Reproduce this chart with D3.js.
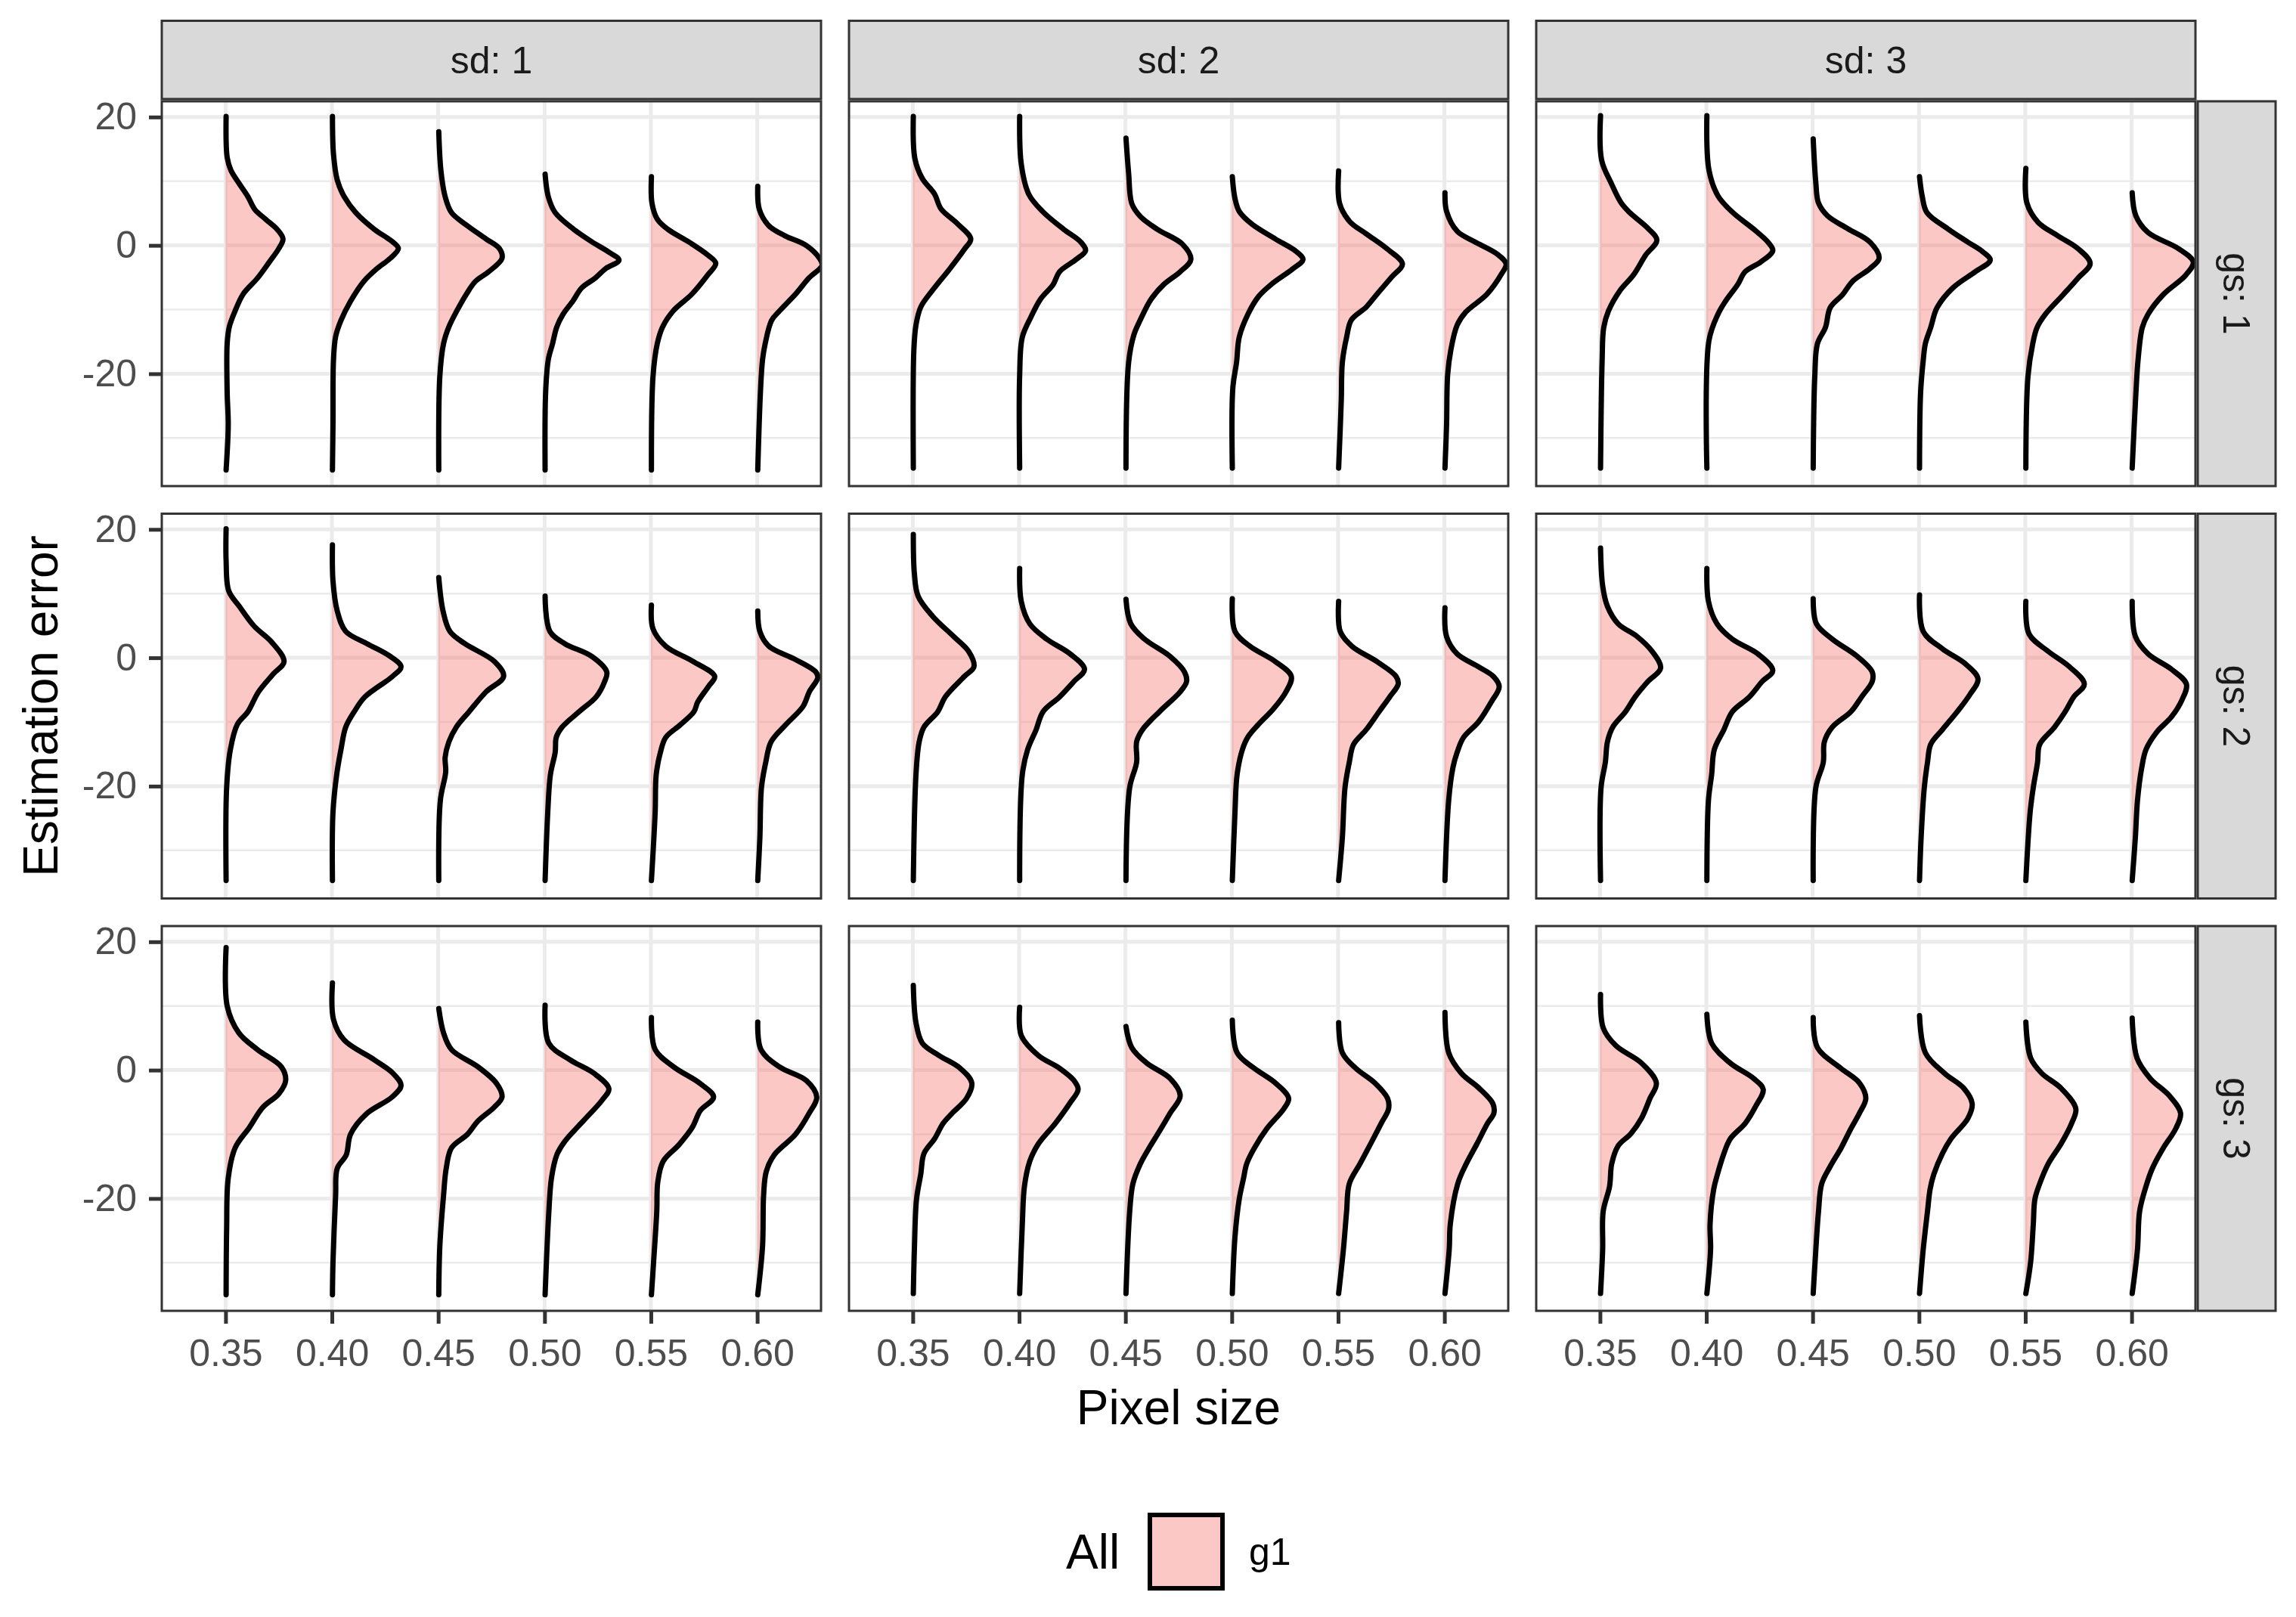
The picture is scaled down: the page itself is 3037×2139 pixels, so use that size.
<!DOCTYPE html>
<html>
<head>
<meta charset="utf-8">
<script src="https://cdn.jsdelivr.net/npm/d3@7"></script>
<style>
  body { margin: 0; background: #fff; }
  text { font-family: "Liberation Sans", Arial, Helvetica, sans-serif; }
</style>
</head>
<body>
<div id="chart"></div>
<script>
// facet levels, categories and ticks
const pixelSizes = ["0.35", "0.40", "0.45", "0.50", "0.55", "0.60"];
const sdLevels = ["sd: 1", "sd: 2", "sd: 3"];
const gsLevels = ["gs: 1", "gs: 2", "gs: 3"];
const yTicks = [-20, 0, 20];
const yMinor = [-30, -10, 10];
const legendTitle = "All";
const legendLabels = ["g1"];

// half violins: [estimation error, half width in category units], top to bottom
const gs1_sd1 = [
  [[20.1,0.005],[13.7,0.015],[11.7,0.05],[9.7,0.125],[7.6,0.21],[5.6,0.275],[4.1,0.375],[2.5,0.485],[1.0,0.54],[-0.5,0.5],[-2.5,0.415],[-5.1,0.3],[-7.6,0.165],[-10.2,0.09],[-12.7,0.035],[-15.3,0.015],[-22.9,0.015],[-28,0.025],[-35,0.005]],
  [[20.1,0.005],[14.2,0.015],[10.2,0.05],[7.6,0.115],[5.1,0.225],[2.5,0.4],[0.5,0.575],[-0.5,0.625],[-2.0,0.55],[-3.6,0.425],[-5.6,0.3],[-8.7,0.175],[-11.7,0.085],[-14.2,0.035],[-17.8,0.015],[-28,0.01],[-35,0.005]],
  [[17.7,0.005],[11.7,0.025],[7.6,0.065],[5.1,0.125],[3.05,0.275],[1.0,0.45],[-0.5,0.575],[-2.0,0.6],[-4.1,0.475],[-5.6,0.35],[-7.6,0.265],[-10.2,0.175],[-12.7,0.1],[-15.3,0.05],[-20.4,0.015],[-35,0.005]],
  [[11.1,0.005],[7.6,0.035],[5.1,0.1],[2.5,0.275],[0.5,0.45],[-1.0,0.6],[-2.3,0.7],[-3.6,0.575],[-5.1,0.475],[-6.6,0.35],[-8.7,0.265],[-10.7,0.175],[-12.7,0.115],[-15.3,0.075],[-17.8,0.035],[-22.9,0.01],[-35,0.005]],
  [[10.7,0.005],[6.6,0.01],[4.1,0.06],[2.5,0.16],[0.5,0.36],[-1.5,0.535],[-2.8,0.61],[-4.6,0.535],[-7.6,0.385],[-10.2,0.21],[-12.7,0.11],[-15.3,0.06],[-20.4,0.02],[-35,0.005]],
  [[9.2,0.005],[5.6,0.02],[3.05,0.11],[1.5,0.26],[0,0.46],[-2.0,0.585],[-3.1,0.61],[-5.1,0.485],[-7.6,0.36],[-10.2,0.21],[-11.7,0.135],[-15.3,0.075],[-17.8,0.05],[-22.9,0.03],[-35,0.005]]
];
const gs1_sd2 = [
  [[20.1,0.005],[13.5,0.02],[10.4,0.09],[8.0,0.205],[5.7,0.265],[3.3,0.425],[1.0,0.545],[-0.6,0.485],[-3.7,0.345],[-6.9,0.19],[-9.6,0.075],[-12.4,0.03],[-16.3,0.01],[-34.7,0.005]],
  [[20.1,0.005],[12.7,0.02],[8.0,0.09],[5.3,0.22],[2.5,0.42],[0.6,0.575],[-0.8,0.625],[-2.2,0.535],[-4.1,0.38],[-6.1,0.32],[-8.4,0.2],[-11.2,0.11],[-14.3,0.03],[-20.2,0.005],[-34.7,0.005]],
  [[16.7,0.005],[11.2,0.03],[6.5,0.06],[4.5,0.14],[2.5,0.3],[0.2,0.535],[-2.2,0.615],[-4.1,0.515],[-6.1,0.36],[-8.4,0.24],[-11.6,0.14],[-13.9,0.08],[-18.2,0.03],[-34.7,0.005]],
  [[10.7,0.005],[7.3,0.03],[5.3,0.07],[3.3,0.19],[1.0,0.41],[-1.0,0.61],[-2.2,0.67],[-3.7,0.57],[-6.1,0.37],[-8.0,0.25],[-10.8,0.15],[-14.3,0.07],[-18.2,0.045],[-22.2,0.01],[-34.7,0.005]],
  [[11.6,0.005],[6.5,0.015],[3.7,0.11],[1.8,0.265],[-0.6,0.465],[-2.9,0.605],[-4.9,0.505],[-7.6,0.365],[-9.6,0.265],[-11.6,0.125],[-14.3,0.08],[-18.2,0.04],[-24.1,0.03],[-34.7,0.005]],
  [[8.2,0.005],[5.3,0.02],[2.2,0.12],[0.6,0.28],[-1.4,0.5],[-2.9,0.58],[-4.5,0.535],[-7.6,0.4],[-10.4,0.2],[-12.4,0.12],[-16.3,0.06],[-20.2,0.03],[-28,0.02],[-34.7,0.005]]
];
const gs1_sd3 = [
  [[20.2,0.005],[13.3,0.015],[9.7,0.105],[6.6,0.2],[5.1,0.28],[2.6,0.455],[0.8,0.535],[-1.5,0.43],[-4.6,0.315],[-7.1,0.185],[-10.2,0.08],[-12.8,0.035],[-17.9,0.02],[-34.7,0.005]],
  [[20.2,0.005],[11.7,0.025],[7.7,0.11],[5.1,0.25],[2.6,0.44],[0.5,0.58],[-0.8,0.625],[-2.6,0.51],[-4.1,0.365],[-6.1,0.295],[-8.7,0.18],[-10.7,0.11],[-14.8,0.025],[-34.7,0.005]],
  [[16.6,0.005],[9.7,0.03],[6.6,0.055],[4.6,0.14],[2.6,0.33],[0.5,0.54],[-2.0,0.625],[-3.6,0.54],[-5.6,0.375],[-7.7,0.28],[-9.7,0.165],[-12.8,0.12],[-15.3,0.045],[-20.4,0.02],[-34.7,0.005]],
  [[10.7,0.005],[7.7,0.03],[5.1,0.075],[2.6,0.27],[0.5,0.46],[-1.0,0.6],[-2.3,0.67],[-4.1,0.53],[-6.6,0.32],[-9.7,0.17],[-12.8,0.11],[-15.3,0.06],[-17.9,0.04],[-23,0.015],[-34.7,0.005]],
  [[12.0,0.005],[6.6,0.015],[3.6,0.12],[1.5,0.305],[-0.5,0.495],[-2.8,0.61],[-5.1,0.495],[-7.7,0.355],[-10.7,0.19],[-12.8,0.11],[-15.3,0.07],[-20.4,0.025],[-34.7,0.005]],
  [[8.2,0.005],[4.6,0.04],[2.0,0.155],[-0.5,0.44],[-2.6,0.58],[-4.6,0.51],[-7.7,0.295],[-10.7,0.155],[-12.8,0.1],[-17.9,0.06],[-23,0.04],[-34.7,0.005]]
];
const gs2_sd1 = [
  [[20.1,0.005],[15.1,0.005],[10.4,0.03],[8.0,0.13],[4.9,0.27],[2.5,0.43],[-0.6,0.55],[-2.5,0.45],[-5.3,0.31],[-8.4,0.21],[-10.4,0.11],[-14.3,0.045],[-20.2,0.01],[-34.7,0.005]],
  [[17.6,0.005],[12.0,0.01],[7.3,0.05],[4.1,0.13],[2.2,0.33],[0.2,0.55],[-1.4,0.65],[-2.9,0.57],[-6.1,0.31],[-8.4,0.21],[-10.8,0.13],[-14.3,0.085],[-18.2,0.045],[-24.1,0.01],[-34.7,0.005]],
  [[12.5,0.005],[7.3,0.045],[4.1,0.11],[2.2,0.25],[-0.6,0.53],[-2.9,0.615],[-5.3,0.45],[-8.4,0.29],[-10.8,0.17],[-13.1,0.1],[-15.5,0.065],[-17.8,0.07],[-22.2,0.02],[-34.7,0.005]],
  [[9.6,0.005],[4.1,0.05],[2.2,0.19],[0.2,0.445],[-2.2,0.585],[-3.7,0.565],[-6.1,0.485],[-8.4,0.325],[-10.8,0.165],[-12.4,0.11],[-14.7,0.1],[-18.2,0.055],[-24.1,0.03],[-34.7,0.005]],
  [[8.2,0.005],[4.5,0.02],[1.8,0.14],[-0.6,0.4],[-2.9,0.6],[-4.5,0.54],[-6.9,0.44],[-8.4,0.405],[-10.4,0.28],[-12.4,0.14],[-14.7,0.09],[-18.2,0.05],[-24.1,0.04],[-34.7,0.005]],
  [[7.3,0.005],[4.1,0.025],[1.8,0.11],[-0.2,0.35],[-2.2,0.55],[-3.1,0.57],[-5.3,0.49],[-7.6,0.43],[-10.4,0.27],[-13.1,0.13],[-16.3,0.08],[-20.2,0.04],[-28,0.025],[-34.7,0.005]]
];
const gs2_sd2 = [
  [[19.2,0.005],[13.1,0.015],[9.6,0.05],[6.5,0.185],[3.3,0.385],[1.0,0.525],[-1.4,0.575],[-2.9,0.485],[-6.1,0.305],[-8.4,0.235],[-10.8,0.105],[-13.1,0.06],[-18.2,0.03],[-34.7,0.005]],
  [[13.9,0.005],[8.8,0.02],[5.3,0.1],[2.9,0.26],[0.6,0.48],[-1.8,0.615],[-3.7,0.515],[-6.1,0.38],[-8.4,0.225],[-11.2,0.16],[-14.3,0.08],[-18.2,0.03],[-34.7,0.005]],
  [[9.1,0.005],[5.3,0.05],[2.9,0.18],[0.2,0.42],[-2.2,0.555],[-3.7,0.575],[-5.3,0.515],[-8.4,0.32],[-11.2,0.16],[-13.1,0.105],[-16.3,0.105],[-20.2,0.04],[-34.7,0.005]],
  [[9.2,0.005],[4.1,0.03],[1.8,0.17],[-0.6,0.41],[-2.9,0.56],[-5.3,0.51],[-8.0,0.39],[-10.4,0.25],[-12.4,0.15],[-14.3,0.1],[-18.2,0.05],[-24.1,0.03],[-34.7,0.005]],
  [[8.8,0.005],[4.1,0.02],[1.8,0.13],[-0.6,0.365],[-2.9,0.545],[-4.1,0.565],[-6.1,0.485],[-8.4,0.385],[-11.2,0.265],[-13.5,0.145],[-16.3,0.105],[-20.2,0.065],[-28,0.04],[-34.7,0.005]],
  [[7.8,0.005],[3.3,0.02],[0.6,0.12],[-1.4,0.32],[-2.9,0.46],[-4.5,0.515],[-6.9,0.44],[-10.0,0.32],[-12.4,0.18],[-14.7,0.12],[-17.1,0.08],[-22.2,0.04],[-34.7,0.005]]
];
const gs2_sd3 = [
  [[17.1,0.005],[11.2,0.025],[8.0,0.07],[5.3,0.17],[3.3,0.35],[1.0,0.49],[-1.6,0.57],[-3.7,0.45],[-6.1,0.33],[-8.4,0.24],[-10.8,0.12],[-13.1,0.07],[-16.3,0.05],[-20.2,0.01],[-34.7,0.005]],
  [[13.9,0.005],[8.8,0.02],[5.3,0.1],[2.9,0.245],[0.6,0.485],[-2.0,0.625],[-3.7,0.525],[-6.1,0.405],[-8.4,0.245],[-11.2,0.165],[-14.3,0.075],[-18.2,0.05],[-22.2,0.02],[-34.7,0.005]],
  [[9.2,0.005],[5.3,0.035],[2.9,0.185],[0.2,0.42],[-2.2,0.56],[-3.7,0.56],[-6.1,0.46],[-8.4,0.36],[-10.8,0.185],[-13.1,0.11],[-16.3,0.1],[-20.2,0.03],[-34.7,0.005]],
  [[9.8,0.005],[4.1,0.04],[1.4,0.22],[-1.0,0.44],[-3.3,0.555],[-5.7,0.48],[-8.4,0.36],[-11.2,0.22],[-13.5,0.11],[-16.3,0.08],[-20.2,0.05],[-28,0.02],[-34.7,0.005]],
  [[8.8,0.005],[3.7,0.035],[1.0,0.215],[-1.4,0.415],[-4.1,0.555],[-6.1,0.455],[-8.4,0.375],[-10.8,0.275],[-13.5,0.135],[-16.3,0.115],[-20.2,0.075],[-24.1,0.045],[-34.7,0.005]],
  [[8.8,0.005],[3.3,0.035],[0.6,0.155],[-1.8,0.375],[-4.1,0.515],[-6.5,0.475],[-9.2,0.375],[-11.6,0.235],[-14.3,0.135],[-17.1,0.095],[-22.2,0.055],[-28,0.035],[-34.7,0.005]]
];
const gs3_sd1 = [
  [[19.1,0.005],[10.0,0.015],[5.8,0.125],[3.2,0.3],[0.5,0.525],[-1.6,0.565],[-3.7,0.5],[-5.8,0.35],[-8.9,0.225],[-12.1,0.09],[-16.8,0.025],[-24.7,0.01],[-35,0.005]],
  [[13.6,0.005],[7.9,0.015],[4.7,0.115],[1.6,0.4],[-0.5,0.575],[-2.4,0.65],[-4.2,0.565],[-6.8,0.325],[-10.0,0.175],[-13.2,0.135],[-15.3,0.05],[-19.5,0.035],[-30,0.01],[-35,0.005]],
  [[9.6,0.005],[5.8,0.05],[3.2,0.125],[0.5,0.375],[-2.1,0.55],[-4.2,0.6],[-5.8,0.525],[-7.9,0.375],[-10.0,0.275],[-12.1,0.125],[-15.3,0.075],[-19.5,0.05],[-27.4,0.015],[-35,0.005]],
  [[10.1,0.005],[4.2,0.04],[1.6,0.24],[-0.5,0.465],[-2.9,0.605],[-4.7,0.54],[-7.9,0.365],[-11.1,0.19],[-13.2,0.115],[-16.8,0.065],[-22.1,0.04],[-35,0.005]],
  [[8.2,0.005],[3.2,0.04],[0.5,0.215],[-2.1,0.465],[-4.2,0.59],[-6.3,0.465],[-8.9,0.39],[-11.6,0.265],[-14.2,0.115],[-17.4,0.065],[-22.1,0.055],[-30,0.025],[-35,0.005]],
  [[7.5,0.005],[3.2,0.035],[0.5,0.21],[-1.6,0.46],[-4.2,0.56],[-6.8,0.485],[-10.0,0.36],[-13.2,0.16],[-15.8,0.085],[-19.5,0.06],[-27.4,0.05],[-35,0.005]]
];
const gs3_sd2 = [
  [[13.2,0.005],[7.4,0.03],[4.2,0.09],[2.3,0.245],[0.3,0.445],[-2.0,0.555],[-4.4,0.505],[-6.8,0.365],[-8.3,0.285],[-10.7,0.205],[-13.0,0.105],[-16.2,0.075],[-20.1,0.035],[-27.9,0.015],[-34.8,0.005]],
  [[9.8,0.005],[5.4,0.02],[2.3,0.18],[0.3,0.38],[-1.6,0.515],[-3.0,0.555],[-5.2,0.475],[-8.3,0.34],[-11.5,0.18],[-14.2,0.1],[-18.1,0.05],[-24,0.03],[-34.8,0.005]],
  [[6.8,0.005],[3.5,0.06],[1.1,0.2],[-1.3,0.42],[-4.0,0.515],[-6.7,0.42],[-9.5,0.32],[-12.2,0.22],[-14.6,0.14],[-17.7,0.07],[-22,0.04],[-34.8,0.005]],
  [[7.8,0.005],[2.7,0.05],[0.3,0.21],[-2.0,0.41],[-4.4,0.535],[-6.0,0.49],[-9.1,0.33],[-12.2,0.21],[-14.6,0.14],[-16.9,0.11],[-20.1,0.07],[-26,0.03],[-34.8,0.005]],
  [[7.4,0.005],[2.7,0.04],[0.3,0.165],[-2.0,0.345],[-4.4,0.465],[-6.0,0.475],[-8.3,0.405],[-11.5,0.305],[-14.6,0.205],[-17.7,0.105],[-22,0.08],[-27.9,0.05],[-34.8,0.005]],
  [[9.0,0.005],[2.7,0.04],[-0.5,0.16],[-2.8,0.325],[-5.2,0.455],[-6.7,0.465],[-8.3,0.405],[-11.5,0.305],[-14.6,0.205],[-17.7,0.125],[-24,0.055],[-27.9,0.045],[-34.8,0.005]]
];
const gs3_sd3 = [
  [[11.8,0.005],[6.6,0.03],[3.8,0.15],[1.1,0.39],[-2.0,0.53],[-4.4,0.47],[-7.5,0.39],[-9.9,0.29],[-11.8,0.17],[-14.6,0.11],[-18.1,0.09],[-22,0.03],[-27.9,0.025],[-34.8,0.005]],
  [[8.7,0.005],[4.2,0.05],[1.1,0.225],[-1.3,0.445],[-3.0,0.535],[-5.6,0.465],[-8.3,0.365],[-10.7,0.225],[-13.0,0.165],[-16.2,0.105],[-18.5,0.07],[-24,0.035],[-27.9,0.04],[-34.8,0.005]],
  [[8.2,0.005],[3.5,0.045],[0.3,0.265],[-2.0,0.44],[-4.4,0.5],[-6.7,0.44],[-9.1,0.36],[-12.2,0.265],[-15.0,0.165],[-17.7,0.085],[-22,0.055],[-27.9,0.03],[-34.8,0.005]],
  [[8.5,0.005],[2.7,0.06],[-0.5,0.24],[-2.8,0.42],[-5.2,0.5],[-7.5,0.46],[-10.7,0.3],[-13.0,0.22],[-16.2,0.14],[-18.5,0.105],[-22,0.08],[-27.9,0.04],[-34.8,0.005]],
  [[7.5,0.005],[1.9,0.05],[-0.5,0.155],[-2.8,0.335],[-6.0,0.475],[-8.3,0.435],[-11.5,0.335],[-14.6,0.215],[-17.7,0.135],[-20.1,0.09],[-24,0.075],[-29.9,0.05],[-34.8,0.005]],
  [[8.1,0.005],[1.9,0.05],[-1.3,0.175],[-4.0,0.355],[-6.7,0.46],[-9.1,0.415],[-12.2,0.295],[-15.3,0.195],[-18.1,0.135],[-22,0.075],[-27.9,0.055],[-34.8,0.005]]
];

const panels = [
  [gs1_sd1, gs1_sd2, gs1_sd3],
  [gs2_sd1, gs2_sd2, gs2_sd3],
  [gs3_sd1, gs3_sd2, gs3_sd3]
];

const width = 3037, height = 2139;
const left0 = 214, top0 = 134;
const pw = 872, ph = 509, gapX = 37, gapY = 36.5;
const stripH = 103.5, stripW = 103, stripGap = 3;
const grey20 = "#333333";
const violinFill = "#F8766D";

const svg = d3.select("#chart")
  .append("svg")
  .attr("width", width)
  .attr("height", height)
  .style("background", "#fff");

const x = d3.scaleLinear()
  .domain([-0.6, pixelSizes.length - 0.4])
  .range([0, pw]);
const y = d3.scaleLinear()
  .domain([-37.5, 22.45])
  .range([ph, 0]);

svg.append("defs").append("clipPath")
  .attr("id", "panel-clip")
  .append("rect")
  .attr("width", pw).attr("height", ph);

panels.forEach((row, r) => {
  row.forEach((violins, c) => {
    const g = svg.append("g")
      .attr("transform", `translate(${left0 + c * (pw + gapX)},${top0 + r * (ph + gapY)})`);

    g.append("rect").attr("width", pw).attr("height", ph).attr("fill", "#fff");

    // grid
    g.selectAll(".minor").data(yMinor).enter().append("line")
      .attr("x1", 0).attr("x2", pw)
      .attr("y1", d => y(d)).attr("y2", d => y(d))
      .attr("stroke", "#EBEBEB").attr("stroke-width", 2.5);
    g.selectAll(".majorY").data(yTicks).enter().append("line")
      .attr("x1", 0).attr("x2", pw)
      .attr("y1", d => y(d)).attr("y2", d => y(d))
      .attr("stroke", "#EBEBEB").attr("stroke-width", 5);
    g.selectAll(".majorX").data(pixelSizes).enter().append("line")
      .attr("x1", (d, i) => x(i)).attr("x2", (d, i) => x(i))
      .attr("y1", 0).attr("y2", ph)
      .attr("stroke", "#EBEBEB").attr("stroke-width", 5);

    // half violins
    const vg = g.append("g").attr("clip-path", "url(#panel-clip)");
    violins.forEach((prof, i) => {
      const area = d3.area()
        .y(d => y(d[0]))
        .x0(x(i))
        .x1(d => x(i + d[1]))
        .curve(d3.curveCatmullRom.alpha(0.5));
      const line = d3.line()
        .x(d => x(i + d[1]))
        .y(d => y(d[0]))
        .curve(d3.curveCatmullRom.alpha(0.5));
      vg.append("path")
        .attr("d", area(prof))
        .attr("fill", violinFill)
        .attr("fill-opacity", 0.4);
      vg.append("path")
        .attr("d", line(prof))
        .attr("fill", "none")
        .attr("stroke", "#000")
        .attr("stroke-width", 7)
        .attr("stroke-linejoin", "round")
        .attr("stroke-linecap", "round");
    });

    g.append("rect")
      .attr("width", pw).attr("height", ph)
      .attr("fill", "none").attr("stroke", grey20).attr("stroke-width", 3);

    // axes
    if (c === 0) {
      const ax = g.append("g")
        .call(d3.axisLeft(y).tickValues(yTicks).tickSize(17).tickPadding(16).tickFormat(d => String(d)));
      ax.select(".domain").remove();
      ax.selectAll("line").attr("stroke", grey20).attr("stroke-width", 5);
      ax.selectAll("text").attr("fill", "#4D4D4D").style("font-size", "50px")
        .style("font-family", "'Liberation Sans', Arial, sans-serif");
    }
    if (r === panels.length - 1) {
      const ax = g.append("g")
        .attr("transform", `translate(0,${ph})`)
        .call(d3.axisBottom(x).tickValues(d3.range(pixelSizes.length)).tickSize(17).tickPadding(20)
          .tickFormat(i => pixelSizes[i]));
      ax.select(".domain").remove();
      ax.selectAll("line").attr("stroke", grey20).attr("stroke-width", 5);
      ax.selectAll("text").attr("fill", "#4D4D4D").style("font-size", "50px")
        .style("font-family", "'Liberation Sans', Arial, sans-serif");
    }

    // strips
    if (r === 0) {
      g.append("rect")
        .attr("x", 0).attr("y", -stripGap - stripH)
        .attr("width", pw).attr("height", stripH)
        .attr("fill", "#D9D9D9").attr("stroke", grey20).attr("stroke-width", 3);
      g.append("text")
        .attr("x", pw / 2).attr("y", -stripGap - stripH / 2)
        .attr("dy", "0.36em")
        .attr("text-anchor", "middle")
        .attr("fill", "#1A1A1A")
        .style("font-size", "50px")
        .text(sdLevels[c]);
    }
    if (c === row.length - 1) {
      g.append("rect")
        .attr("x", pw + stripGap).attr("y", 0)
        .attr("width", stripW).attr("height", ph)
        .attr("fill", "#D9D9D9").attr("stroke", grey20).attr("stroke-width", 3);
      g.append("text")
        .attr("transform", `translate(${pw + stripGap + stripW / 2},${ph / 2}) rotate(90)`)
        .attr("dy", "0.36em")
        .attr("text-anchor", "middle")
        .attr("fill", "#1A1A1A")
        .style("font-size", "50px")
        .text(gsLevels[r]);
    }
  });
});

// axis titles
const plotRight = left0 + 3 * pw + 2 * gapX;
const plotBottom = top0 + 3 * ph + 2 * gapY;
svg.append("text")
  .attr("x", (left0 + plotRight) / 2)
  .attr("y", 1884)
  .attr("text-anchor", "middle")
  .attr("fill", "#000")
  .style("font-size", "64px")
  .text("Pixel size");
svg.append("text")
  .attr("transform", `translate(76,${(top0 + plotBottom) / 2}) rotate(-90)`)
  .attr("text-anchor", "middle")
  .attr("fill", "#000")
  .style("font-size", "64px")
  .text("Estimation error");

// legend
const legend = svg.append("g").attr("transform", "translate(1410,2052)");
legend.append("text")
  .attr("x", 0).attr("y", 0).attr("dy", "0.36em")
  .attr("fill", "#000")
  .style("font-size", "64px")
  .text(legendTitle);
legend.selectAll(".key").data(legendLabels).enter().append("rect")
  .attr("x", 111).attr("y", -48)
  .attr("width", 96).attr("height", 97)
  .attr("fill", violinFill).attr("fill-opacity", 0.4)
  .attr("stroke", "#000").attr("stroke-width", 6);
legend.selectAll(".lab").data(legendLabels).enter().append("text")
  .attr("x", 242).attr("y", 0).attr("dy", "0.36em")
  .attr("fill", "#000")
  .style("font-size", "50px")
  .text(d => d);
</script>
</body>
</html>
